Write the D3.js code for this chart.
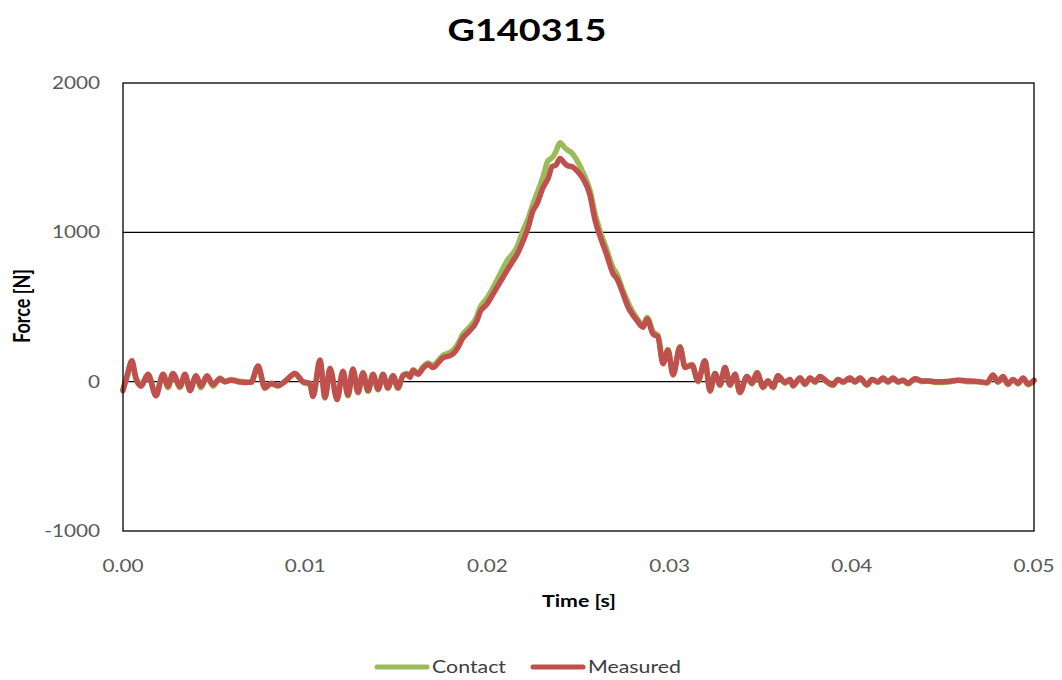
<!DOCTYPE html>
<html><head><meta charset="utf-8">
<script src="https://cdn.jsdelivr.net/npm/d3@7"></script>
<style>body{margin:0;background:#fff}svg{display:block}</style>
</head><body><svg id="c" width="1062" height="680"></svg>
<script>
const title = "G140315";
const xTicks = [0, 0.01, 0.02, 0.03, 0.04, 0.05];
const yTicks = [-1000, 0, 1000, 2000];
const seriesNames = ["Contact", "Measured"];
const time = [0.00000,0.00022,0.00049,0.00071,0.00099,0.00137,0.00181,0.00220,0.00247,0.00274,0.00313,0.00340,0.00368,0.00401,0.00428,0.00461,0.00494,0.00532,0.00560,0.00593,0.00631,0.00670,0.00703,0.00741,0.00779,0.00812,0.00851,0.00889,0.00944,0.00988,0.01026,0.01043,0.01081,0.01109,0.01136,0.01175,0.01207,0.01235,0.01262,0.01290,0.01317,0.01345,0.01372,0.01400,0.01427,0.01454,0.01482,0.01509,0.01537,0.01559,0.01575,0.01592,0.01619,0.01647,0.01674,0.01701,0.01729,0.01756,0.01784,0.01811,0.01839,0.01866,0.01894,0.01943,0.01959,0.01998,0.02042,0.02086,0.02108,0.02141,0.02162,0.02195,0.02223,0.02250,0.02272,0.02305,0.02333,0.02355,0.02376,0.02398,0.02426,0.02442,0.02464,0.02497,0.02525,0.02563,0.02591,0.02618,0.02656,0.02689,0.02711,0.02744,0.02772,0.02799,0.02821,0.02838,0.02854,0.02876,0.02909,0.02936,0.02964,0.02991,0.03019,0.03057,0.03085,0.03123,0.03156,0.03194,0.03222,0.03249,0.03277,0.03304,0.03332,0.03359,0.03386,0.03425,0.03452,0.03480,0.03513,0.03540,0.03568,0.03595,0.03633,0.03661,0.03677,0.03716,0.03743,0.03771,0.03798,0.03825,0.03864,0.03897,0.03924,0.03952,0.03990,0.04018,0.04045,0.04083,0.04111,0.04144,0.04171,0.04199,0.04226,0.04254,0.04281,0.04308,0.04347,0.04385,0.04418,0.04457,0.04495,0.04539,0.04583,0.04632,0.04687,0.04742,0.04775,0.04802,0.04830,0.04857,0.04885,0.04912,0.04940,0.04967,0.05000];
const contact = [-50,30,120,30,-20,45,-80,45,-40,50,-40,45,-50,35,-40,35,-30,25,0,15,5,0,-5,95,-45,-15,-30,5,50,-5,-20,-90,130,-110,80,-110,65,-95,80,-75,55,-65,45,-55,45,-45,40,-45,45,55,40,80,60,100,125,110,140,175,190,210,255,320,355,440,495,560,655,760,810,860,900,1010,1090,1190,1260,1370,1480,1500,1540,1600,1565,1550,1530,1470,1400,1280,1125,1010,880,765,720,610,530,465,425,395,380,430,335,310,130,215,50,235,100,115,0,140,-65,55,-25,95,-25,50,-75,35,-15,60,-40,5,-40,40,-10,15,-30,25,-20,25,-5,35,-5,-25,15,-5,25,-5,25,-25,15,-5,25,-5,25,-5,10,-15,20,0,5,-5,-5,0,10,0,0,-10,40,-5,30,-20,15,-15,20,-20,5];
const measured = [-60,40,140,20,-30,50,-95,50,-30,55,-30,50,-60,40,-30,40,-20,20,0,10,0,-5,-3,105,-40,-10,-25,0,55,0,-10,-100,145,-105,90,-120,70,-90,85,-70,60,-60,50,-50,50,-40,40,-40,40,50,30,75,50,90,115,95,125,160,170,185,230,295,330,410,465,520,610,700,745,810,850,940,1030,1145,1190,1300,1360,1440,1450,1495,1460,1445,1440,1405,1360,1250,1080,975,845,725,690,590,500,445,410,380,365,420,320,300,120,210,45,230,95,110,5,140,-60,55,-20,95,-20,50,-70,35,-10,60,-35,5,-35,40,-5,15,-25,25,-15,25,0,35,0,-20,15,0,25,0,25,-20,15,0,25,0,25,0,10,-10,20,5,5,0,0,3,10,5,2,-5,45,0,35,-15,15,-10,25,-15,10];
const colors = ["#9BBB59", "#C0504D"];

const svg = d3.select("#c");
const L = 123, R = 1034, T = 83, B = 531;
const SX = 1.22;
const x = d3.scaleLinear().domain([0, 0.05]).range([L, R]);
const y = d3.scaleLinear().domain([-1000, 2000]).range([B, T]);
const FONT = "Lato, 'Open Sans', sans-serif";

function txt(str, px, py, opts) {
  return svg.append("text")
    .attr("transform", `translate(${px},${py}) scale(${SX},1)` + (opts.rot ? ` rotate(${opts.rot})` : ""))
    .attr("font-family", FONT).attr("font-size", opts.size)
    .attr("font-weight", opts.bold ? "bold" : "normal")
    .attr("fill", opts.fill || "#595959")
    .attr("text-anchor", opts.anchor || "middle")
    .text(str);
}

// gridlines
svg.append("g").selectAll("line").data(yTicks.filter(v => v > -1000 && v < 2000)).join("line")
  .attr("x1", L).attr("x2", R).attr("y1", d => y(d)).attr("y2", d => y(d))
  .attr("stroke", "#000").attr("stroke-width", 1.3);

// lines
const line = d3.line().x((d, i) => x(time[i])).y(d => y(d)).curve(d3.curveMonotoneX);
[contact, measured].forEach((s, k) => {
  svg.append("path").attr("d", line(s)).attr("fill", "none")
    .attr("stroke", colors[k]).attr("stroke-width", 5.5)
    .attr("stroke-linejoin", "round").attr("stroke-linecap", "round");
});

// plot border
svg.append("rect").attr("x", L).attr("y", T).attr("width", R - L).attr("height", B - T)
  .attr("fill", "none").attr("stroke", "#000").attr("stroke-width", 1.3);

// tick labels
yTicks.forEach(v => txt(String(v), 100, y(v) + 6, {size: 17, anchor: "end"}));
xTicks.forEach(v => txt(d3.format(".2f")(v), x(v), 572, {size: 17}));

// titles
txt(title, 527, 41, {size: 31, bold: true, fill: "#000"});
txt("Time [s]", 579, 607, {size: 17.5, bold: true, fill: "#000"});
txt("Force [N]", 30, 306, {size: 18, bold: true, fill: "#000", rot: -90});

// legend
const legX = [377, 533];
seriesNames.forEach((n, k) => {
  svg.append("line").attr("x1", legX[k]).attr("x2", legX[k] + 50).attr("y1", 667).attr("y2", 667)
    .attr("stroke", colors[k]).attr("stroke-width", 5).attr("stroke-linecap", "round");
  txt(n, legX[k] + 55, 673, {size: 17.5, anchor: "start", fill: "#404040"});
});
</script></body></html>
